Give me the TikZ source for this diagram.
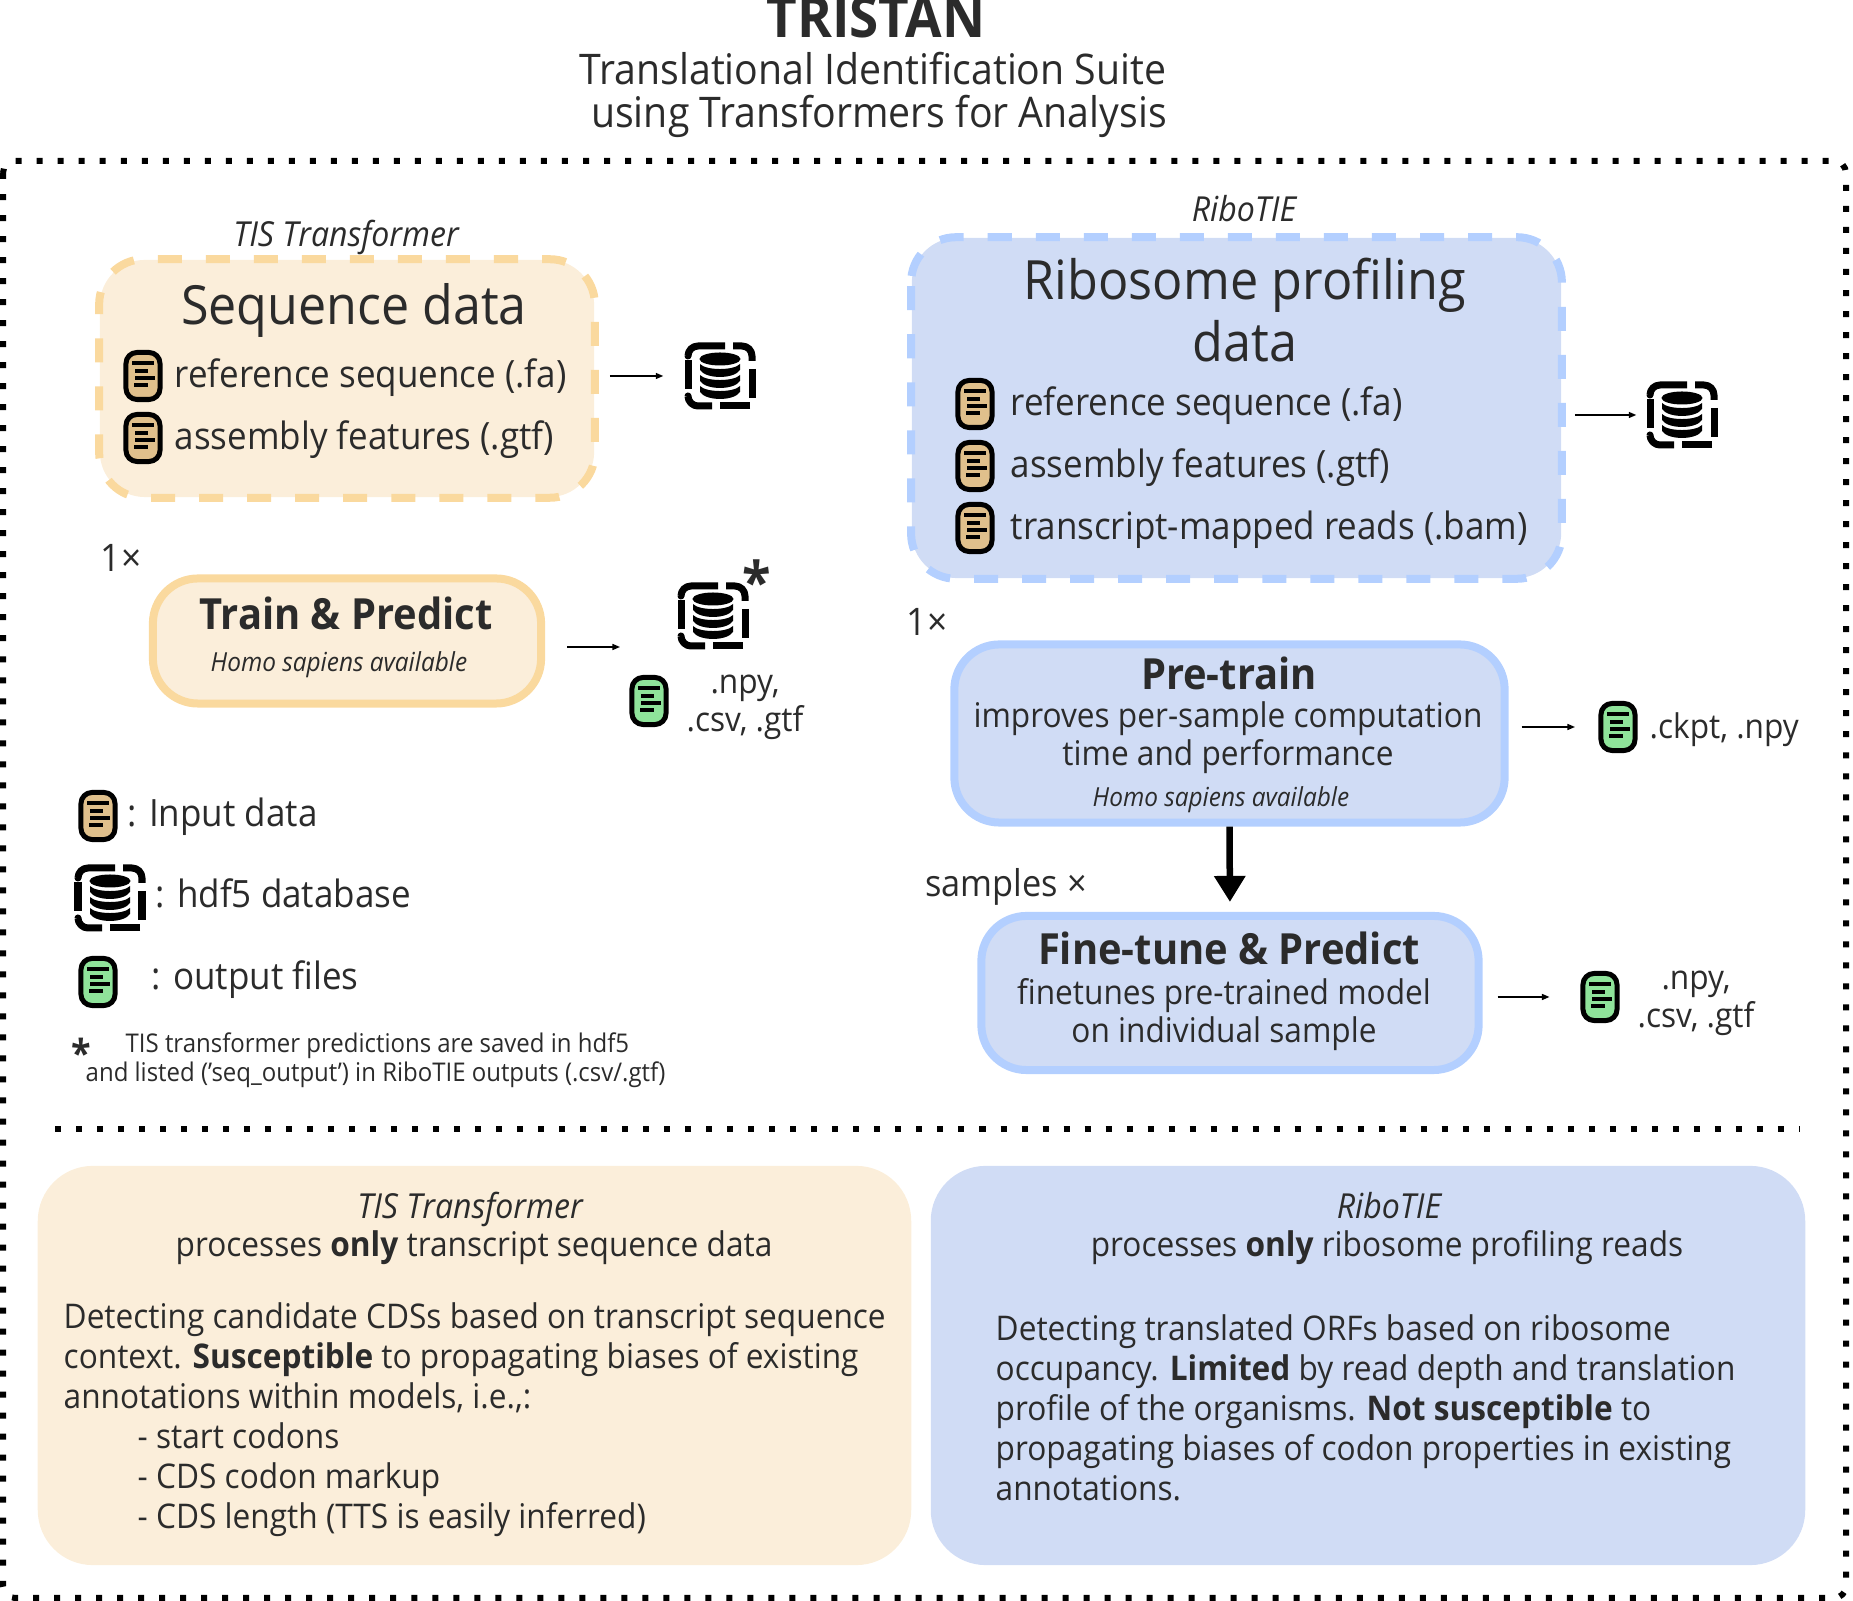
\documentclass[tikz,border=0pt]{standalone}
\usepackage{fontspec}
\setmainfont[FakeStretch=0.93]{Open Sans}
\usetikzlibrary{arrows.meta}
\definecolor{inkdark}{HTML}{2B2B2B}
\definecolor{tisfill}{HTML}{FBEEDA}
\definecolor{tisedge}{HTML}{FAD99E}
\definecolor{ribofill}{HTML}{D0DCF5}
\definecolor{riboedge}{HTML}{B3CFFF}
\definecolor{inputtan}{HTML}{E0C08C}
\definecolor{outgreen}{HTML}{8FE39A}
\newcommand{\docstrokes}{
  \begin{scope}[shift={(path picture bounding box.center)}, line width=.035cm, black]
    \draw (-11,-13) -- (11,-13);
    \draw (-8,-5) -- (5,-5);
    \draw (-8,2) -- (12,2);
    \draw (-9,9) -- (5,9);
  \end{scope}
}
\newcommand{\dbstrokes}{
  \begin{scope}[shift={(path picture bounding box.center)}, black]
    \begin{scope}[line width=.07cm, rounded corners=.1cm]
      \draw (-32,-20) -- (-32,-30) -- (5,-30);
      \draw (13,-30) -- (32,-30) -- (32,-15);
      \draw (32,-7) -- (32,22);
      \draw (30,30) -- (0,30);
      \draw (-8,30) -- (-32,30) -- (-32,20);
      \draw (-32,13) -- (-32,-16);
    \end{scope}
    \fill (0,-17) ellipse [x radius=.205cm, y radius=.065cm];
    \foreach \y in {-12,-1,10}
      \fill (-20,\y) -- (-20,\y+6) .. controls (-14,\y+15.3) and (14,\y+15.3) .. (20,\y+6) -- (20,\y) .. controls (14,\y+6.7) and (-14,\y+6.7) .. (-20,\y) -- cycle;
  \end{scope}
}
\tikzset{
  tisbox/.style={fill=tisfill, inner sep=0pt},
  ribobox/.style={fill=ribofill, inner sep=0pt},
  dashframe/.style={line width=.08cm, dash pattern=on .24cm off .24cm, rounded corners=.45cm},
  solidframe/.style={line width=.08cm, rounded corners=.45cm},
  docicon/.style={draw=black, line width=.05cm, fill=#1, rounded corners=.11cm, inner sep=0pt, minimum width=.34cm, minimum height=.47cm, path picture={\docstrokes}},
  dbicon/.style={inner sep=0pt, minimum width=.8cm, minimum height=.76cm, path picture={\dbstrokes}},
  flow/.style={-{Stealth[length=.075cm, width=.06cm, inset=0pt]}, line width=.014cm},
  heavyflow/.style={-{Stealth[length=.26cm, width=.3cm, inset=0pt]}, line width=.065cm},
  label/.style={text=inkdark, inner sep=0pt},
  huge/.style={label, font=\fontsize{15.35}{17.6}\selectfont},
  large/.style={label, font=\fontsize{10.7}{11}\selectfont},
  body/.style={label, font=\fontsize{9.67}{10.76}\selectfont},
  para/.style={label, font=\fontsize{9.67}{11.38}\selectfont},
  small/.style={label, font=\fontsize{7.33}{8.5}\selectfont},
  heading/.style={label, font=\fontsize{12.2}{13}\bfseries\selectfont},
  note/.style={label, font=\fontsize{7.46}{8}\itshape\selectfont},
  tag/.style={label, font=\fontsize{9.8}{11}\itshape\selectfont},
}
\begin{document}
\begin{tikzpicture}[x=.01cm, y=-.01cm, line join=round]
  \useasboundingbox (0,0) rectangle (1853,1601);

  % Title
  \node[label, anchor=base, font=\fontsize{16.2}{17}\bfseries\selectfont] (title) at (876,38) {TRISTAN};
  \node[label, align=center, font=\fontsize{12}{12.4}\selectfont] (subtitle) at (873,95) {Translational Identification Suite\\ \hspace*{.12cm}using Transformers for Analysis};

  % Outer dotted frame and divider
  \draw[line width=.06cm, dash pattern=on .06cm off .15cm, rounded corners=.12cm] (3,161) rectangle (1846,1598);
  \coordinate (divleft) at (55,1129);
  \coordinate (divright) at (1799,1129);
  \draw[line width=.06cm, dash pattern=on .06cm off .15cm] (divleft) -- (divright);

  % Left column, data
  \node[tag] (tistag) at (346,237) {TIS Transformer};
  \node[tisbox, minimum width=4.94cm, minimum height=2.37cm, rounded corners=.45cm] (seqbox) at (347,378.5) {};
  \draw[tisedge, dashframe, dash phase=.14cm] (seqbox.north west) rectangle (seqbox.south east);
  \node[huge] (seqtitle) at (354,310) {Sequence data};
  \node[docicon=inputtan] (seqdoca) at (143,376) {};
  \node[docicon=inputtan] (seqdocb) at (143,438) {};
  \node[large, anchor=west] (seqref) at (174,377.5) {reference sequence (.fa)};
  \node[large, anchor=west] (seqgtf) at (174,439.5) {assembly features (.gtf)};
  \node[dbicon] (seqdb) at (720,376) {};
  \draw[flow, shorten <=.15cm, shorten >=.16cm] (seqbox.east |- seqdb) -- (seqdb.west);

  % Left column, train and predict
  \node[body, font=\fontsize{10.8}{12}\selectfont] (onetis) at (121,558) {1×};
  \node[tisbox, draw=tisedge, solidframe, minimum width=3.88cm, minimum height=1.25cm] (trainbox) at (347,641) {};
  \node[heading] (traintitle) at (346,613) {Train \& Predict};
  \node[note] (trainnote) at (339,665) {Homo sapiens available};
  \coordinate (trainout) at (620,647);
  \draw[flow, shorten <=.22cm] (trainbox.east |- trainout) -- (trainout);
  \node[dbicon] (traindb) at (713,616) {};
  \node[label, font=\fontsize{16}{18}\bfseries\selectfont] (trainstar) at (757,581) {*};
  \node[docicon=outgreen] (traindoc) at (649,701) {};
  \node[body, align=center] (trainfiles) at (745,707) {.npy,\\.csv, .gtf};

  % Legend
  \node[docicon=inputtan] (keyinput) at (98,816) {};
  \node[large, anchor=west] (keyinputtext) at (127,817) {: Input data};
  \node[dbicon] (keydb) at (110,898) {};
  \node[large, anchor=west] (keydbtext) at (155,893) {: hdf5 database};
  \node[docicon=outgreen] (keyout) at (98,982) {};
  \node[large, anchor=west] (keyouttext) at (151,980) {: output files};
  \node[label, font=\fontsize{11}{13}\bfseries\selectfont] (notestar) at (81,1053) {*};
  \node[small, anchor=west] (notea) at (125,1046) {TIS transformer predictions are saved in hdf5};
  \node[small, anchor=west] (noteb) at (85,1075) {and listed ('seq\_output') in RiboTIE outputs (.csv/.gtf)};

  % Right column, data
  \node[tag] (ribotag) at (1244,209) {RiboTIE};
  \node[ribobox, minimum width=6.49cm, minimum height=3.40cm, rounded corners=.45cm] (ribodata) at (1236.5,408) {};
  \draw[riboedge, dashframe, dash phase=.44cm] (ribodata.north west) rectangle (ribodata.south east);
  \node[huge, align=center, font=\fontsize{15.4}{17.6}\selectfont] (ribotitle) at (1245,310) {Ribosome profiling\\data};
  \node[docicon=inputtan] (ribodoca) at (975,404) {};
  \node[docicon=inputtan] (ribodocb) at (975,466) {};
  \node[docicon=inputtan] (ribodocc) at (975,528) {};
  \node[large, anchor=west] (riboref) at (1010,405.5) {reference sequence (.fa)};
  \node[large, anchor=west] (ribogtf) at (1010,467.5) {assembly features (.gtf)};
  \node[large, anchor=west] (ribobam) at (1010,529.5) {transcript-mapped reads (.bam)};
  \node[dbicon] (ribodb) at (1682,415) {};
  \draw[flow, shorten <=.13cm, shorten >=.05cm] (ribodata.east |- ribodb) -- (ribodb.west);

  % Right column, pre-train
  \node[body, font=\fontsize{10.8}{12}\selectfont] (oneribo) at (927,622) {1×};
  \node[ribobox, draw=riboedge, solidframe, minimum width=5.50cm, minimum height=1.78cm] (pretrain) at (1229.5,733.5) {};
  \node[heading] (pretitle) at (1229,673) {Pre-train};
  \node[body, align=center] (pretext) at (1228,738) {improves per-sample computation\\time and performance};
  \node[note] (prenote) at (1221,800) {Homo sapiens available};
  \node[docicon=outgreen] (predoc) at (1618,727) {};
  \draw[flow, shorten <=.13cm, shorten >=.235cm] (pretrain.east |- predoc) -- (predoc.west);
  \node[body, anchor=west] (prefiles) at (1649,730) {.ckpt, .npy};

  % Right column, fine-tune
  \node[body, font=\fontsize{10.5}{12}\selectfont] (samplestag) at (1006,887) {samples ×};
  \node[ribobox, draw=riboedge, solidframe, minimum width=4.97cm, minimum height=1.54cm] (finetune) at (1230,993) {};
  \node[heading] (finetitle) at (1229,948) {Fine-tune \& Predict};
  \node[body, align=center] (finetext) at (1224,1015) {finetunes pre-trained model\\on individual sample};
  \node[docicon=outgreen] (finedoc) at (1600,997) {};
  \draw[flow, shorten <=.15cm, shorten >=.31cm] (finetune.east |- finedoc) -- (finedoc.west);
  \node[body, align=center] (finefiles) at (1696,1003) {.npy,\\.csv, .gtf};
  \draw[heavyflow, shorten >=.1cm] (pretrain.south) -- (finetune.north);

  % Bottom summaries
  \node[tisbox, minimum width=8.73cm, minimum height=3.99cm, rounded corners=.55cm] (tissum) at (474.5,1365.5) {};
  \node[ribobox, minimum width=8.74cm, minimum height=3.99cm, rounded corners=.55cm] (ribosum) at (1368,1365.5) {};
  \node[tag] (tissumtag) at (470,1209) {TIS Transformer};
  \node[para] (tissumhead) at (474,1248) {processes \textbf{only} transcript sequence data};
  \node[para, anchor=west, align=left] (tissumtext) at (63,1420) {Detecting candidate CDSs based on transcript sequence\\
    context. \textbf{Susceptible} to propagating biases of existing\\
    annotations within models, i.e.,:\\
    \hspace*{.74cm}- start codons\\
    \hspace*{.74cm}- CDS codon markup\\
    \hspace*{.74cm}- CDS length (TTS is easily inferred)};
  \node[tag] (ribosumtag) at (1389,1206) {RiboTIE};
  \node[para] (ribosumhead) at (1387,1248) {processes \textbf{only} ribosome profiling reads};
  \node[para, anchor=west, align=left] (ribosumtext) at (995,1408) {Detecting translated ORFs based on ribosome\\
    occupancy. \textbf{Limited} by read depth and translation\\
    profile of the organisms. \textbf{Not susceptible} to\\
    propagating biases of codon properties in existing\\
    annotations.};
\end{tikzpicture}
\end{document}
